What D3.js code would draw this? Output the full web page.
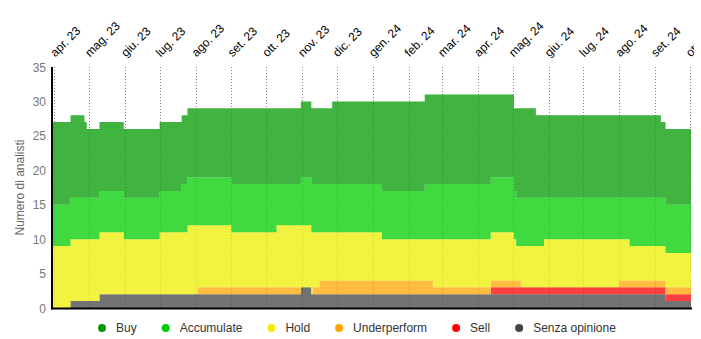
<!DOCTYPE html>
<html><head><meta charset="utf-8">
<script src="https://cdn.jsdelivr.net/npm/d3@7"></script>
<style>
html,body{margin:0;padding:0;background:#fff;overflow:hidden}
svg{display:block;font-family:"Liberation Sans",Arial,sans-serif}
</style></head><body>
<svg id="c" width="701" height="339"></svg>
<script>
// ---- data ----
const stepDates = ["2023-03-30","2023-04-15","2023-04-27","2023-04-29","2023-05-10","2023-05-31","2023-07-01","2023-07-20","2023-07-25","2023-08-03",
  "2023-09-01","2023-10-10","2023-10-31","2023-11-09","2023-11-10","2023-11-16","2023-11-27","2024-01-09","2024-02-15","2024-02-22",
  "2024-04-12","2024-05-02","2024-05-04","2024-05-08","2024-05-21","2024-05-28","2024-08-01","2024-08-10","2024-09-06","2024-09-10"];
const endDate = "2024-10-02";
const senzaOpinione = [0,1,1,1,2,2,2,2,2,2, 2,2,3,2,2,2,2,2,2,2, 2,2,2,2,2,2,2,2,2,1];
const sell          = [0,0,0,0,0,0,0,0,0,0, 0,0,0,0,0,0,0,0,0,0, 1,1,1,1,1,1,1,1,1,1];
const underperform  = [0,0,0,0,0,0,0,0,0,1, 1,1,0,0,1,2,2,2,2,1, 1,1,1,0,0,0,1,1,1,1];
const hold          = [9,9,9,9,9,8,9,9,10,9, 8,9,9,9,8,7,7,6,6,7, 7,6,5,6,6,7,6,5,5,5];
const accumulate    = [6,6,6,6,6,6,6,7,7,7, 7,6,7,7,7,7,7,7,8,8, 8,7,7,7,7,6,6,7,7,7];
const buy           = [12,12,11,10,10,10,10,10,10,10, 11,11,11,11,11,11,12,13,13,13, 12,12,13,13,12,12,12,12,11,11];
const seriesNames  = ["Buy","Accumulate","Hold","Underperform","Sell","Senza opinione"];
const seriesColors = ["#009900","#00cc00","#eeee00","#ffa500","#ff0000","#444444"];
const monthTickLabels = ["apr. 23","mag. 23","giu. 23","lug. 23","ago. 23","set. 23","ott. 23","nov. 23","dic. 23","gen. 24",
  "feb. 24","mar. 24","apr. 24","mag. 24","giu. 24","lug. 24","ago. 24","set. 24","ott. 24"];
const yTicks = [0,5,10,15,20,25,30,35];
const yTitle = "Numero di analisti";

// ---- build ----
const parse = d3.utcParse("%Y-%m-%d");
const valuesByName = {"Buy":buy,"Accumulate":accumulate,"Hold":hold,"Underperform":underperform,"Sell":sell,"Senza opinione":senzaOpinione};
const rows = stepDates.map((d,i)=>{
  const r = {date: parse(d)};
  seriesNames.forEach(n=>r[n]=valuesByName[n][i]);
  return r;
});
const last = Object.assign({}, rows[rows.length-1], {date: parse(endDate)});
rows.push(last);

const L=52, R=691, T=67, B=308;
const svg = d3.select("#c");
const x = d3.scaleUtc().domain([rows[0].date, parse(endDate)]).range([L,R]);
const y = d3.scaleLinear().domain([0,35]).range([B,T]);

const tickDates = d3.utcMonth.range(parse("2023-04-01"), parse("2024-10-02"));

svg.append("defs").append("clipPath").attr("id","lblclip")
  .append("rect").attr("x",0).attr("y",0).attr("width",694).attr("height",339);

// gridlines
svg.append("g").selectAll("line").data(tickDates).join("line")
  .attr("x1",d=>Math.round(x(d))+0.5).attr("x2",d=>Math.round(x(d))+0.5)
  .attr("y1",T).attr("y2",B)
  .attr("stroke","#888").attr("stroke-width",1).attr("stroke-dasharray","1,2");

// stacked areas (bottom first)
const stackKeys = seriesNames.slice().reverse();
const stack = d3.stack().keys(stackKeys)(rows);
const area = d3.area().curve(d3.curveStepAfter)
  .x(d=>x(d.data.date)).y0(d=>y(d[0])).y1(d=>y(d[1]));
svg.append("g").selectAll("path").data(stack).join("path")
  .attr("d",area)
  .attr("fill",d=>seriesColors[seriesNames.indexOf(d.key)])
  .attr("fill-opacity",0.75);

// axes lines
svg.append("line").attr("x1",L).attr("x2",L).attr("y1",T).attr("y2",B+1.5)
  .attr("stroke","#000").attr("stroke-width",2);
svg.append("line").attr("x1",L-1).attr("x2",R+1).attr("y1",B+0.5).attr("y2",B+0.5)
  .attr("stroke","#000").attr("stroke-width",2);

// y tick labels
svg.append("g").selectAll("text").data(yTicks).join("text")
  .attr("x",46).attr("y",d=>y(d)+4.5).attr("text-anchor","end")
  .attr("font-size",12).attr("fill","#777").text(d=>d);

// y title
svg.append("text").attr("transform",`translate(24,${(T+B)/2}) rotate(-90)`)
  .attr("text-anchor","middle").attr("font-size",12).attr("fill","#666").text(yTitle);

// x tick labels
svg.append("g").attr("clip-path","url(#lblclip)").selectAll("text").data(tickDates).join("text")
  .attr("transform",d=>`translate(${x(d)+1},57.5) rotate(-45)`)
  .attr("font-size",12).attr("fill","#000")
  .text((d,i)=>monthTickLabels[i]);

// legend
const lg = svg.append("g");
let lx = 102;
seriesNames.forEach((n,i)=>{
  lg.append("circle").attr("cx",lx).attr("cy",328).attr("r",4).attr("fill",seriesColors[i]);
  const t = lg.append("text").attr("x",lx+14).attr("y",332).attr("font-size",12).attr("fill","#333").text(n);
  lx = lx + 14 + t.node().getComputedTextLength() + 29;
});
</script>
</body></html>
